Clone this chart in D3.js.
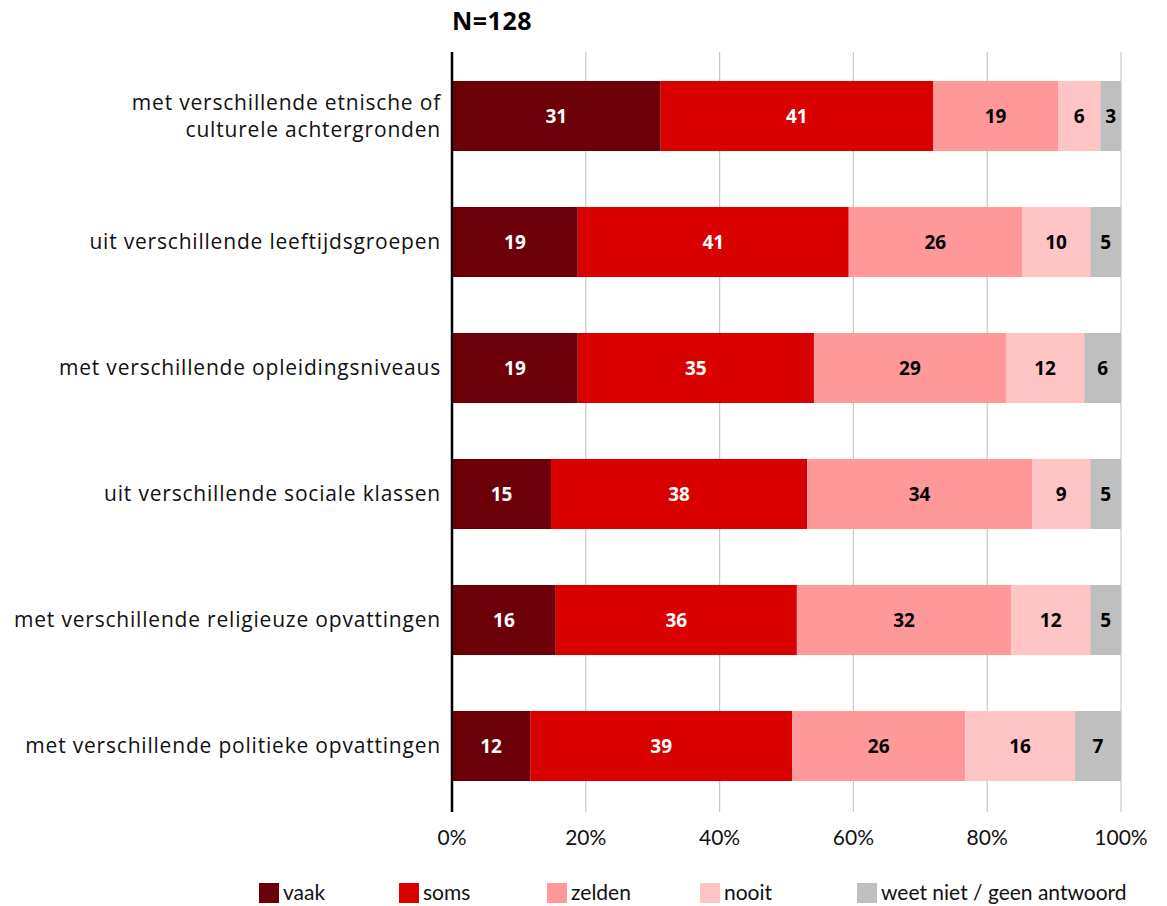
<!DOCTYPE html>
<html><head><meta charset="utf-8">
<script src="https://cdn.jsdelivr.net/npm/d3@7"></script>
<style>body{margin:0;background:#fff}svg{display:block}</style>
</head><body><svg id="c" width="1167" height="906"></svg>
<script>
const categories = [
  ["met verschillende etnische of","culturele achtergronden"],
  ["uit verschillende leeftijdsgroepen"],
  ["met verschillende opleidingsniveaus"],
  ["uit verschillende sociale klassen"],
  ["met verschillende religieuze opvattingen"],
  ["met verschillende politieke opvattingen"]
];
const seriesNames = ["vaak","soms","zelden","nooit","weet niet / geen antwoord"];
const vaak   = [31.2, 18.8, 18.8, 14.8, 15.5, 11.7];
const soms   = [40.7, 40.5, 35.3, 38.3, 36.0, 39.2];
const zelden = [18.7, 25.9, 28.7, 33.6, 32.0, 25.9];
const nooit  = [6.3, 10.2, 11.7, 8.7, 11.8, 16.4];
const weet   = [3.1, 4.6, 5.5, 4.6, 4.6, 6.9];
const colors = ["#6b0008","#d90000","#ff9999","#ffc4c4","#bfbfbf"];
const textColors = ["#fff","#fff","#000","#000","#000"];
const xTicks = [0,20,40,60,80,100];
const title = "N=128";

const font = "Lato, 'Open Sans', sans-serif";
const font2 = "'Open Sans', Lato, sans-serif";
const svg = d3.select("#c");
const m = {left:452, right:46, top:53, bottom:97};
const W = 1167, H = 906;
const x = d3.scaleLinear().domain([0,100]).range([m.left, W-m.right]);
const y = d3.scaleBand().domain(d3.range(categories.length)).range([m.top, H-m.bottom]).paddingInner(0.444).paddingOuter(0.222);

const rows = categories.map((c,i)=>({i, vals:[vaak[i],soms[i],zelden[i],nooit[i],weet[i]]}));
const stack = d3.stack().keys(d3.range(5)).value((d,k)=>d.vals[k]).offset(d3.stackOffsetExpand);
const series = stack(rows);

// gridlines
const gy0 = m.top - 1, gy1 = H - m.bottom + 3;
svg.append("g").selectAll("line").data(xTicks.slice(1)).join("line")
  .attr("x1",d=>x(d)).attr("x2",d=>x(d)).attr("y1",gy0).attr("y2",gy1)
  .attr("stroke","#c8c8c8").attr("stroke-width",1.2);

// bars
series.forEach((s,k)=>{
  const g = svg.append("g");
  g.selectAll("rect").data(s).join("rect")
    .attr("x",d=>x(d[0]*100)).attr("width",d=>x(d[1]*100)-x(d[0]*100))
    .attr("y",(d,j)=>y(j)).attr("height",y.bandwidth())
    .attr("fill",colors[k]);
  g.selectAll("text").data(s).join("text")
    .attr("x",d=>(x(d[0]*100)+x(d[1]*100))/2)
    .attr("y",(d,j)=>y(j)+y.bandwidth()/2)
    .attr("dy","0.36em").attr("text-anchor","middle")
    .attr("font-family",font2).attr("font-weight","bold").attr("font-size",19)
    .attr("fill",textColors[k])
    .text((d)=>d3.format(".0f")(d.data.vals[k]));
});

// y axis line
svg.append("line").attr("x1",m.left).attr("x2",m.left).attr("y1",gy0).attr("y2",gy1)
  .attr("stroke","#000").attr("stroke-width",2.5);

// category labels
const lab = svg.append("g");
categories.forEach((lines,i)=>{
  const cy = y(i)+y.bandwidth()/2;
  const lh = 27;
  lines.forEach((t,li)=>{
    lab.append("text").attr("x",441).attr("y",cy + (li-(lines.length-1)/2)*lh)
      .attr("dy","0.35em").attr("text-anchor","end")
      .attr("font-family",font2).attr("font-size",21).attr("letter-spacing",0.8)
      .attr("fill","#111").text(t);
  });
});

// x tick labels
svg.append("g").selectAll("text").data(xTicks).join("text")
  .attr("x",d=>x(d)).attr("y",838).attr("dy","0.35em").attr("text-anchor","middle")
  .attr("font-family",font).attr("font-size",21).attr("fill","#111")
  .text(d=>d+"%");

// title
svg.append("text").attr("x",m.left).attr("y",21).attr("dy","0.35em")
  .attr("font-family",font2).attr("font-weight","bold").attr("font-size",25).attr("letter-spacing",0.5)
  .attr("fill","#000").text(title);

// legend
const legX = [259,399,547,700,857];
const lg = svg.append("g");
seriesNames.forEach((n,k)=>{
  lg.append("rect").attr("x",legX[k]).attr("y",883).attr("width",20).attr("height",20).attr("fill",colors[k]);
  lg.append("text").attr("x",legX[k]+24).attr("y",893).attr("dy","0.35em")
    .attr("font-family",font).attr("font-size",21).attr("fill","#111").text(n);
});
</script></body></html>
